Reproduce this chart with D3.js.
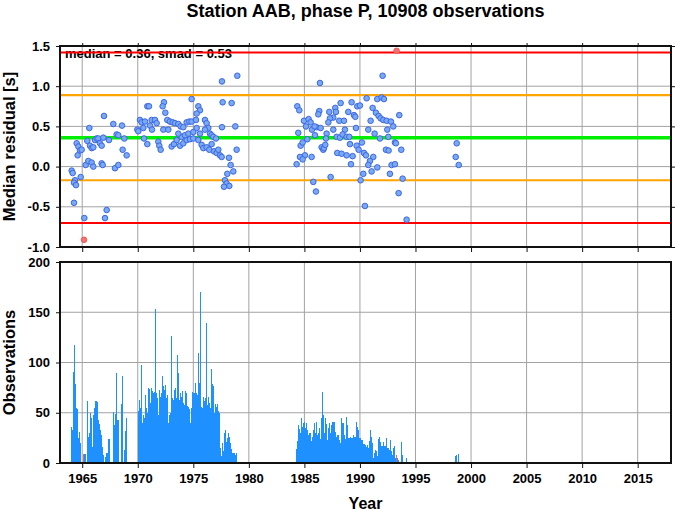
<!DOCTYPE html>
<html><head><meta charset="utf-8">
<script src="https://cdn.jsdelivr.net/npm/d3@7"></script>
<style>
body{margin:0;background:#fff}
svg{display:block}
text{font-family:"Liberation Sans",Arial,Helvetica,sans-serif;font-weight:bold;fill:#000}
</style>
</head><body>
<svg id="chart" width="678" height="511"></svg>
<script>
// ---------------- data ----------------
const titleText = "Station AAB, phase P, 10908 observations";
const medianValue = 0.36;
const smadValue = 0.53;
const yearTicks = [1965, 1970, 1975, 1980, 1985, 1990, 1995, 2000, 2005, 2010, 2015];
const residTicks = [-1.0, -0.5, 0.0, 0.5, 1.0, 1.5];
const obsTicks = [0, 50, 100, 150, 200];

// monthly median residuals (decimal year, seconds)
const pointYears = [
 1964.05,1964.14,1964.35,1964.26,1964.44,1964.86,1964.26,1965.19,1967.05,1967.20,
 1964.50,1964.65,1964.80,1964.95,1964.59,1965.46,1965.70,1965.85,1966.00,1966.15,
 1966.30,1966.45,1966.60,1966.75,1966.90,1965.31,1965.55,1965.85,1966.00,1966.75,
 1966.84,1967.41,1968.10,1968.25,1968.79,1968.64,1969.00,1967.95,1968.25,1966.96,
 1965.64,1967.80,1968.58,
 1969.96,1970.20,1970.35,1970.50,1970.56,1970.86,1970.86,1971.01,1971.10,1971.28,
 1971.25,1971.55,1971.85,1970.65,1970.05,
 1978.96,1977.58,1974.85,1977.64,1978.45,1972.36,1972.24,1972.48,1975.45,1975.60,
 1975.30,1977.58,1978.78,1978.90,1978.21,1978.36,1978.60,1978.06,1977.85,1978.00,
 1978.24,1977.76,
 1971.70,1972.66,1972.90,1973.14,1973.35,1973.65,1973.86,1974.10,1974.40,1974.64,
 1974.85,1975.24,1976.05,1976.20,1976.35,1976.50,1976.65,1976.80,1977.04,1972.30,
 1972.75,1971.94,1972.06,1973.05,1973.26,1973.50,1973.80,1974.10,1974.40,1974.70,
 1975.00,1975.45,1975.75,1975.90,1976.20,1976.44,1976.65,1976.86,1977.10,1977.25,
 1977.40,1977.55,1973.95,1974.25,1974.55,1973.65,1976.05,1975.60,1975.00,1975.30,
 1984.36,1984.54,1986.40,1988.26,1989.25,1989.76,1990.00,1990.60,1991.56,1991.95,
 1992.16,1992.04,1987.78,1987.84,1987.24,1986.34,1986.25,1987.60,1987.30,1987.15,
 1988.14,1988.56,1988.95,1989.46,1989.58,1991.14,1991.44,1991.68,1991.86,1992.10,
 1992.40,1992.79,1993.54,1990.96,1993.00,1992.46,1984.96,1985.14,1985.38,1985.56,
 1985.68,1986.10,1986.46,1985.92,1987.60,1988.65,1989.64,1990.75,1991.32,1992.55,
 1991.80,1993.15,1993.24,1993.72,1992.34,1992.58,1984.45,1984.66,1984.84,1985.26,
 1985.95,1987.00,1987.90,1988.20,1988.44,1988.80,1989.04,1986.94,1986.55,1986.70,
 1986.76,1986.88,1989.10,1989.70,1989.88,1990.18,1990.36,1990.54,1991.20,1990.90,
 1990.75,1991.05,1991.56,1987.96,1988.35,1988.80,1989.34,1989.19,1985.05,1984.60,
 1984.84,1984.30,1985.65,1992.85,1993.15,1992.70,1990.30,1990.06,1987.36,1985.80,
 1986.04,1993.84,1993.48,1990.45,1994.20,
 1998.71,1998.62,1998.89
];
const pointValues = [
 -0.05,-0.08,-0.17,-0.20,-0.23,-0.13,-0.45,-0.64,-0.64,-0.54,
 0.29,0.25,0.20,0.21,0.14,0.32,0.26,0.23,0.24,0.33,
 0.35,0.35,0.29,0.26,0.36,0.02,0.07,0.05,0.00,0.04,
 0.02,0.33,0.40,0.39,0.35,0.21,0.14,-0.02,0.02,0.63,
 0.48,0.53,0.51,
 0.46,0.58,0.55,0.48,0.35,0.28,0.75,0.75,0.51,0.46,
 0.58,0.58,0.31,0.56,0.44,
 1.13,1.06,0.84,0.80,0.79,0.80,0.75,0.67,0.75,0.70,
 0.66,0.49,0.50,0.21,0.11,0.02,-0.06,-0.09,-0.17,-0.21,
 -0.24,-0.25,
 0.54,0.58,0.56,0.55,0.54,0.53,0.50,0.49,0.55,0.56,
 0.56,0.58,0.58,0.54,0.48,0.41,0.39,0.37,0.35,0.46,
 0.46,0.26,0.21,0.25,0.28,0.33,0.26,0.29,0.33,0.34,
 0.35,0.33,0.27,0.23,0.24,0.21,0.28,0.19,0.17,0.21,
 0.14,0.12,0.37,0.39,0.41,0.41,0.46,0.41,0.43,0.48,
 0.75,0.70,1.04,0.79,0.80,0.75,0.76,0.85,0.84,0.86,
 0.84,1.13,0.73,0.68,0.68,0.69,0.65,0.61,0.60,0.55,
 0.57,0.57,0.68,0.64,0.62,0.73,0.67,0.63,0.60,0.58,
 0.57,0.56,0.64,0.57,0.50,0.46,0.57,0.50,0.59,0.55,
 0.46,0.49,0.48,0.50,0.46,0.46,0.48,0.46,0.41,0.37,
 0.35,0.30,0.29,0.21,0.21,0.20,0.42,0.26,0.30,0.34,
 0.39,0.41,0.37,0.36,0.40,0.37,0.37,0.35,0.24,0.21,
 0.23,0.27,0.28,0.26,0.21,0.30,0.17,0.14,0.12,0.07,
 0.02,-0.06,-0.01,0.17,0.16,0.14,0.13,0.03,0.14,0.12,
 0.09,0.03,0.12,0.02,0.03,-0.09,-0.09,-0.17,-0.13,-0.19,
 -0.31,-0.15,-0.33,-0.49,-0.66,
 0.29,0.12,0.02
];
const outlierYears = [1965.16, 1993.30];
const outlierValues = [-0.91, 1.44];

// monthly observation counts (Jan..Dec) per year
const binYears = [1964,1965,1966,1967,1968,1970,1971,1972,1973,1974,1975,1976,1977,1978,
                  1984,1985,1986,1987,1988,1989,1990,1991,1992,1993,1994,1998];
const binCounts = [
 [36,33,91,117,79,55,54,25,31,21,20,0],
 [0,9,9,9,0,62,26,30,50,45,26,16],
 [48,55,62,62,61,43,39,33,28,16,8,0],
 [0,6,10,10,24,24,0,0,0,51,38,49],
 [76,90,43,43,0,0,59,87,0,13,32,45],
 [52,63,55,54,98,40,48,45,68,55,50,75],
 [74,60,75,72,70,61,71,153,70,65,48,73],
 [66,70,87,77,73,78,65,64,68,40,48,50],
 [126,65,63,73,75,65,107,90,64,63,70,66],
 [72,60,58,72,70,57,56,54,40,55,52,71],
 [70,70,80,70,68,109,80,170,56,55,66,56],
 [62,65,139,58,66,60,55,94,79,77,50,59],
 [56,52,59,52,50,15,7,20,12,30,33,21],
 [25,20,30,26,20,14,10,10,10,8,10,0],
 [0,0,0,14,22,38,34,30,45,36,40,27],
 [41,35,40,33,28,30,30,22,26,33,40,30],
 [38,41,28,30,35,24,45,71,48,30,45,39],
 [23,35,34,40,30,38,41,41,41,31,26,28],
 [28,23,20,20,45,40,40,28,24,46,38,25],
 [25,26,25,25,28,28,26,26,41,36,33,25],
 [25,23,23,19,19,18,16,12,18,15,22,33],
 [26,20,5,10,13,12,7,21,24,26,21,17],
 [17,21,17,17,25,15,15,13,23,18,12,8],
 [15,17,5,8,5,3,0,0,21,8,0,0],
 [0,0,5,0,0,0,0,0,0,0,0,0],
 [0,0,0,0,0,0,0,7,8,0,9,0]
];
// bins holding the rejected (outlier) monthly medians
const outlierBinYears = [1965, 1993];
const outlierBinMonths = [1, 3];

// ---------------- drawing ----------------
const svg = d3.select("#chart");
const L = 60, R = 671;
const topP = {t: 46, b: 247};
const botP = {t: 262, b: 463};

const x = d3.scaleLinear().domain([1963, 2018]).range([L, R]);
const yR = d3.scaleLinear().domain([-1.0, 1.5]).range([topP.b, topP.t]);
const yO = d3.scaleLinear().domain([0, 200]).range([botP.b, botP.t]);

const gridColor = "#a3a3a3";

// title
svg.append("text").attr("x", (L + R) / 2).attr("y", 17)
  .attr("text-anchor", "middle").style("font-size", "18px").text(titleText);

function panelGrid(y, yticks, p) {
  const g = svg.append("g");
  g.selectAll(".vx").data(yearTicks).join("line")
    .attr("x1", d => x(d)).attr("x2", d => x(d))
    .attr("y1", p.t).attr("y2", p.b)
    .attr("stroke", gridColor).attr("stroke-width", 1);
  g.selectAll(".hy").data(yticks.filter(d => y(d) > p.t + 1 && y(d) < p.b - 1)).join("line")
    .attr("x1", L).attr("x2", R)
    .attr("y1", d => y(d)).attr("y2", d => y(d))
    .attr("stroke", gridColor).attr("stroke-width", 1);
}

// ---- top panel ----
panelGrid(yR, residTicks, topP);

svg.append("text").attr("x", 65).attr("y", 58)
  .style("font-size", "13px")
  .text(`median = ${medianValue.toFixed(2)}, smad = ${smadValue.toFixed(2)}`);

const refLines = [
  {v: medianValue + 2 * smadValue, c: "#ff0000", w: 2},
  {v: medianValue + smadValue, c: "#ffa500", w: 2.2},
  {v: medianValue, c: "#00ee00", w: 3.5},
  {v: medianValue - smadValue, c: "#ffa500", w: 2.2},
  {v: medianValue - 2 * smadValue, c: "#ff0000", w: 2}
];
svg.append("g").selectAll("line").data(refLines).join("line")
  .attr("x1", L).attr("x2", R)
  .attr("y1", d => yR(d.v)).attr("y2", d => yR(d.v))
  .attr("stroke", d => d.c).attr("stroke-width", d => d.w);

const pts = pointYears.map((t, i) => ({t, v: pointValues[i]}));
svg.append("g").selectAll("circle").data(pts).join("circle")
  .attr("cx", d => x(d.t)).attr("cy", d => yR(d.v)).attr("r", 2.8)
  .attr("fill", "#78a9f2").attr("stroke", "#3c66e6").attr("stroke-width", 1);

const opts = outlierYears.map((t, i) => ({t, v: outlierValues[i]}));
svg.append("g").selectAll("circle").data(opts).join("circle")
  .attr("cx", d => x(d.t)).attr("cy", d => yR(d.v)).attr("r", 2.8)
  .attr("fill", "#f27272").attr("stroke", "#e85a5a").attr("stroke-width", 1);

// axes top panel
const fmt1 = d => d.toFixed(1);
svg.append("g").attr("transform", `translate(${L},0)`)
  .call(d3.axisLeft(yR).tickValues(residTicks).tickFormat(fmt1).tickSize(4).tickPadding(6))
  .call(g => { g.select(".domain").remove(); g.selectAll("text").style("font-size", "13px"); });
svg.append("g").attr("transform", `translate(${R},0)`)
  .call(d3.axisRight(yR).tickValues(residTicks).tickFormat("").tickSize(4))
  .call(g => g.select(".domain").remove());
svg.append("g").attr("transform", `translate(0,${topP.t})`)
  .call(d3.axisTop(x).tickValues(yearTicks).tickFormat("").tickSize(3))
  .call(g => g.select(".domain").remove());
svg.append("g").attr("transform", `translate(0,${topP.b})`)
  .call(d3.axisBottom(x).tickValues(yearTicks).tickFormat("").tickSize(5))
  .call(g => g.select(".domain").remove());

svg.append("rect").attr("x", L).attr("y", topP.t).attr("width", R - L).attr("height", topP.b - topP.t)
  .attr("fill", "none").attr("stroke", "#111").attr("stroke-width", 2);

svg.append("text")
  .attr("transform", `translate(15,${(topP.t + topP.b) / 2}) rotate(-90)`)
  .attr("text-anchor", "middle").style("font-size", "16.5px").text("Median residual [s]");

// ---- bottom panel ----
panelGrid(yO, obsTicks, botP);

const bins = [];
binYears.forEach((yr, i) => {
  binCounts[i].forEach((n, m) => {
    if (n > 0) {
      let red = false;
      outlierBinYears.forEach((oy, j) => { if (oy === yr && outlierBinMonths[j] === m) red = true; });
      bins.push({t0: yr + m / 12, t1: yr + (m + 1) / 12, n, red});
    }
  });
});
svg.append("g").attr("shape-rendering", "crispEdges")
  .selectAll("rect").data(bins).join("rect")
  .attr("x", d => x(d.t0)).attr("width", d => Math.max(1, x(d.t1) - x(d.t0)))
  .attr("y", d => yO(d.n)).attr("height", d => yO(0) - yO(d.n))
  .attr("fill", d => d.red ? "#f06060" : "#1e90ff");

svg.append("g").attr("transform", `translate(${L},0)`)
  .call(d3.axisLeft(yO).tickValues(obsTicks).tickFormat(d3.format("d")).tickSize(4).tickPadding(6))
  .call(g => { g.select(".domain").remove(); g.selectAll("text").style("font-size", "13px"); });
svg.append("g").attr("transform", `translate(0,${botP.b})`)
  .call(d3.axisBottom(x).tickValues(yearTicks).tickFormat(d3.format("d")).tickSize(5).tickPadding(6))
  .call(g => { g.select(".domain").remove(); g.selectAll("text").style("font-size", "13px"); });

svg.append("rect").attr("x", L).attr("y", botP.t).attr("width", R - L).attr("height", botP.b - botP.t)
  .attr("fill", "none").attr("stroke", "#111").attr("stroke-width", 2);

svg.append("text")
  .attr("transform", `translate(15,${(botP.t + botP.b) / 2}) rotate(-90)`)
  .attr("text-anchor", "middle").style("font-size", "16.5px").text("Observations");

svg.append("text").attr("x", (L + R) / 2).attr("y", 509)
  .attr("text-anchor", "middle").style("font-size", "16px").text("Year");

svg.selectAll(".tick line").attr("stroke", "#111");
</script>
</body></html>
